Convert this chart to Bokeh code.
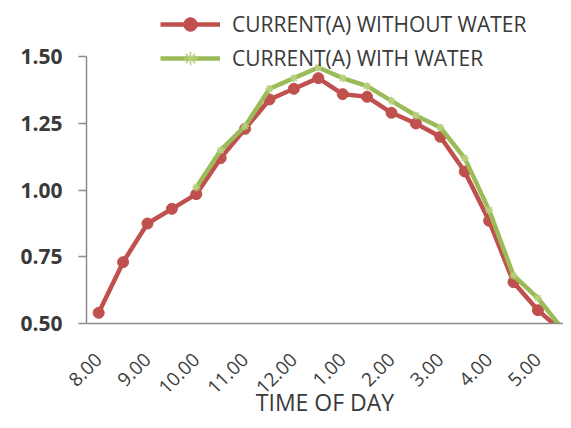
import numpy as np
from bokeh.plotting import figure
from bokeh.models import Range1d, FixedTicker, Legend, LegendItem, NumeralTickFormatter
from bokeh.embed import file_html
from bokeh.resources import INLINE

# ---- data ----
time_slots = ["8.00", "8.30", "9.00", "9.30", "10.00", "10.30", "11.00", "11.30",
              "12.00", "12.30", "1.00", "1.30", "2.00", "2.30", "3.00", "3.30",
              "4.00", "4.30", "5.00", "5.30"]
tick_labels = ["8.00", "9.00", "10.00", "11.00", "12.00", "1.00", "2.00", "3.00", "4.00", "5.00"]
current_without_water = [0.54, 0.73, 0.875, 0.93, 0.985, 1.12, 1.23, 1.34, 1.38, 1.42,
                         1.36, 1.35, 1.29, 1.25, 1.20, 1.07, 0.885, 0.655, 0.55, 0.47]
current_with_water = [np.nan, np.nan, np.nan, np.nan, 1.01, 1.15, 1.24, 1.38, 1.42, 1.46,
                      1.42, 1.39, 1.335, 1.28, 1.235, 1.12, 0.925, 0.68, 0.595, 0.48]
y_ticks = [0.50, 0.75, 1.00, 1.25, 1.50]
series_names = ["CURRENT(A) WITHOUT WATER", "CURRENT(A) WITH WATER"]
x_title = "TIME OF DAY"

x = np.arange(len(time_slots))
tick_pos = [time_slots.index(t) for t in tick_labels]

RED = "#C0504D"
GREEN = "#9BBB59"
TXT = "#3a3a3a"
AX = "#8c8c8c"

W, H = 563, 420
LEFT, BOTTOM = 86, 97
FRAME_W, FRAME_H = W - LEFT, H - BOTTOM

p = figure(width=W, height=H, output_backend="svg", toolbar_location=None,
           x_range=Range1d(-0.5, -0.5 + FRAME_W / 24.4),
           y_range=Range1d(0.5, 0.5 + FRAME_H / 266.7),
           min_border_left=LEFT, min_border_right=0, min_border_top=0,
           min_border_bottom=BOTTOM)
p.outline_line_color = None
p.xgrid.visible = False
p.ygrid.visible = False

r_line = p.line(x, current_without_water, line_color=RED, line_width=4.5)
r_pts = p.scatter(x, current_without_water, marker="circle", size=11,
                  fill_color=RED, line_color=RED)
g_line = p.line(x, current_with_water, line_color=GREEN, line_width=4.5)
g_pts = p.scatter(x, current_with_water, marker="asterisk", size=8,
                  line_color="#b5cf7a", line_width=1.5)

# y axis
ya = p.yaxis[0]
ya.ticker = FixedTicker(ticks=y_ticks)
ya.bounds = (0.5, 1.5)
ya.formatter = NumeralTickFormatter(format="0.00")
ya.axis_line_color = AX
ya.axis_line_width = 1.5
ya.major_tick_line_color = AX
ya.major_tick_line_width = 1.5
ya.major_tick_out = 8
ya.major_tick_in = 0
ya.minor_tick_line_color = None
ya.major_label_standoff = 16
ya.major_label_text_font = "Open Sans"
ya.major_label_text_font_style = "bold"
ya.major_label_text_font_size = "21px"
ya.major_label_text_color = TXT

# x axis
xa = p.xaxis[0]
xa.ticker = FixedTicker(ticks=tick_pos)
xa.major_label_overrides = {i: t for i, t in zip(tick_pos, tick_labels)}
xa.major_label_orientation = np.pi / 4
xa.axis_line_color = AX
xa.axis_line_width = 1.5
xa.major_tick_line_color = None
xa.major_tick_out = 0
xa.major_tick_in = 0
xa.minor_tick_line_color = None
xa.major_label_standoff = 33
xa.major_label_text_font = "Open Sans"
xa.major_label_text_font_size = "19px"
xa.major_label_text_color = TXT
xa.axis_label = x_title
xa.axis_label_text_font = "Open Sans"
xa.axis_label_text_font_style = "normal"
xa.axis_label_text_font_size = "23px"
xa.axis_label_text_color = TXT
xa.axis_label_standoff = -17

legend = Legend(items=[LegendItem(label=series_names[0], renderers=[r_line, r_pts]),
                       LegendItem(label=series_names[1], renderers=[g_line, g_pts])],
                location=(74, FRAME_H - 75), orientation="vertical",
                glyph_width=60, glyph_height=34, label_height=34, spacing=0,
                padding=0, margin=0, label_standoff=12,
                border_line_color=None, background_fill_alpha=0,
                label_text_font="Open Sans", label_text_font_size="21px",
                label_text_color=TXT)
p.add_layout(legend, "center")

open("out.html", "w").write(file_html(p, INLINE))
